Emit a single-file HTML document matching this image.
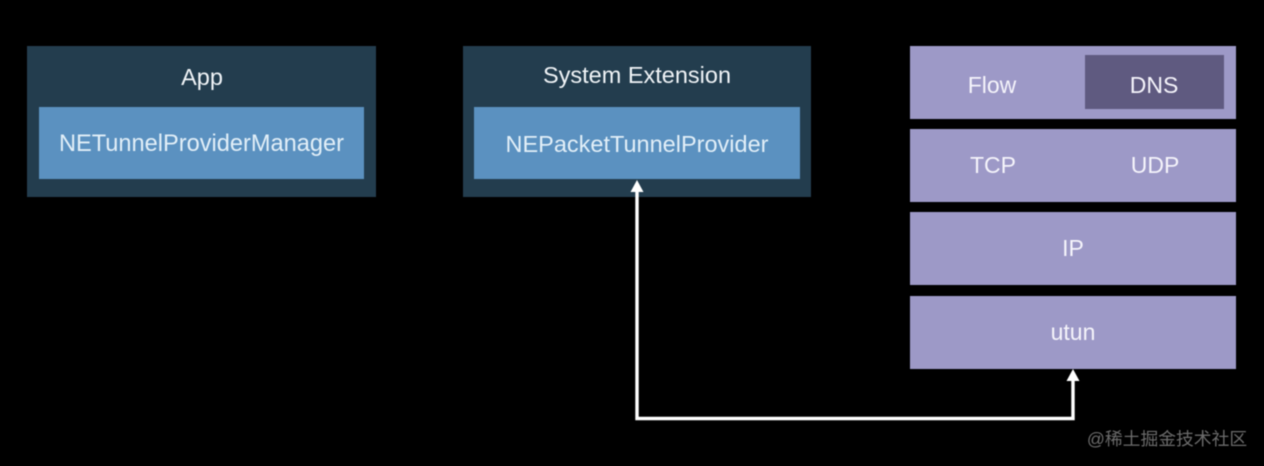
<!DOCTYPE html>
<html>
<head>
<meta charset="utf-8">
<style>
html,body{margin:0;padding:0;background:#000;}
#c{position:relative;width:1264px;height:466px;background:#000;overflow:hidden;font-family:"Liberation Sans","Noto Sans CJK SC",sans-serif;filter:blur(0.4px);}
.b{position:absolute;}
.t{position:absolute;white-space:nowrap;transform:translate(-50%,-50%);font-size:23px;line-height:30px;color:#f0f4f7;}
</style>
</head>
<body>
<div id="c">
<div class="b" style="left:27px;top:46px;width:349px;height:151px;background:#233d4e"></div>
<div class="b" style="left:39px;top:107px;width:325px;height:72px;background:#5b91c0"></div>
<div class="b" style="left:463px;top:46px;width:348px;height:151px;background:#233d4e"></div>
<div class="b" style="left:474px;top:107px;width:326px;height:72px;background:#5b91c0"></div>
<div class="b" style="left:910px;top:46px;width:326px;height:73px;background:#9d99c7"></div>
<div class="b" style="left:1085px;top:55px;width:139px;height:54px;background:#5f5a80"></div>
<div class="b" style="left:910px;top:129px;width:326px;height:73px;background:#9d99c7"></div>
<div class="b" style="left:910px;top:212px;width:326px;height:73px;background:#9d99c7"></div>
<div class="b" style="left:910px;top:296px;width:326px;height:73px;background:#9d99c7"></div>

<div class="t" style="left:202px;top:76.500px;font-size:23.5px">App</div>
<div class="t" style="left:201.500px;top:144px;font-size:23.6px;color:#e2eff8">NETunnelProviderManager</div>
<div class="t" style="left:637px;top:75px;font-size:23.5px">System Extension</div>
<div class="t" style="left:637px;top:144px;font-size:23.5px;color:#e2eff8">NEPacketTunnelProvider</div>
<div class="t" style="left:992px;top:85px;color:#f5f4fb">Flow</div>
<div class="t" style="left:1154px;top:85px;color:#f5f4fb">DNS</div>
<div class="t" style="left:993px;top:165px;color:#f5f4fb">TCP</div>
<div class="t" style="left:1155px;top:165px;color:#f5f4fb">UDP</div>
<div class="t" style="left:1073px;top:248px;color:#f5f4fb">IP</div>
<div class="t" style="left:1073px;top:332px;color:#f5f4fb">utun</div>

<svg class="b" style="left:0;top:0" width="1264" height="466" viewBox="0 0 1264 466">
<path d="M637 190V418.500H1073V378" fill="none" stroke="#fff" stroke-width="3.4"/>
<polygon points="637,180 643.500,192 630.500,192" fill="#fff"/>
<polygon points="1073,369 1079.500,381 1066.500,381" fill="#fff"/>
</svg>

<div class="t" style="left:1167px;top:438.500px;font-size:17.8px;line-height:22px;color:#6b6b6b">@稀土掘金技术社区</div>
</div>
</body>
</html>
